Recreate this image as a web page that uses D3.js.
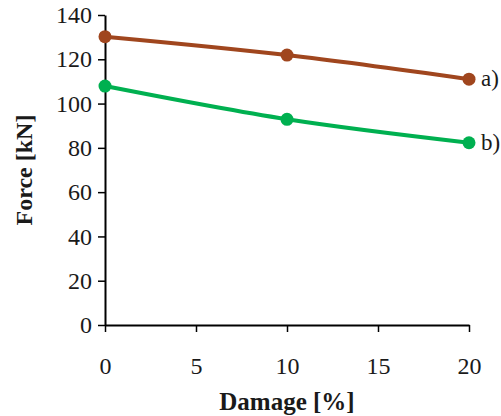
<!DOCTYPE html>
<html>
<head>
<meta charset="utf-8">
<script src="https://cdn.jsdelivr.net/npm/d3@7"></script>
<style>
  body { margin: 0; background: #fff; }
  svg text { font-family: "Liberation Serif", "Times New Roman", serif; fill: #1a1a1a; }
</style>
</head>
<body>
<svg id="vis" width="501" height="416"></svg>
<script>
const damage = [0, 10, 20];
const forceA = [130.2, 121.9, 111.0];
const forceB = [107.9, 92.9, 82.3];
const xTicks = [0, 5, 10, 15, 20];
const yTicks = [0, 20, 40, 60, 80, 100, 120, 140];

let width = 501,
    height = 416,
    margins = { top: 15, right: 32, bottom: 91, left: 105 },
    svg = d3.select("#vis");

const x = d3.scaleLinear().domain([0, 20]).range([margins.left, width - margins.right]);
const y = d3.scaleLinear().domain([0, 140]).range([height - margins.bottom, margins.top]);

const series = [
  { label: "a)", values: forceA, color: "#A0461E" },
  { label: "b)", values: forceB, color: "#00B050" }
];

// axes
const xAxis = svg.append("g")
    .attr("transform", `translate(0,${y(0)})`)
    .call(d3.axisBottom(x).tickValues(xTicks).tickSize(7).tickPadding(25).tickSizeOuter(0));
const yAxis = svg.append("g")
    .attr("transform", `translate(${x(0)},0)`)
    .call(d3.axisLeft(y).tickValues(yTicks).tickSize(7).tickPadding(6).tickSizeOuter(0));

[xAxis, yAxis].forEach(g => {
  g.attr("font-size", 24).attr("font-family", "Liberation Serif");
  g.select(".domain").attr("stroke", "#000").attr("stroke-width", 2);
  g.selectAll(".tick line").attr("stroke", "#000").attr("stroke-width", 1.5);
  g.selectAll(".tick text")
    .style("font-family", '"Liberation Serif", serif')
    .style("font-size", "24px")
    .attr("fill", "#1a1a1a");
});

// lines
const line = d3.line()
    .x((d, i) => x(damage[i]))
    .y(d => y(d))
    .curve(d3.curveCatmullRom.alpha(0.5));

series.forEach(s => {
  svg.append("path")
      .datum(s.values)
      .attr("fill", "none")
      .attr("stroke", s.color)
      .attr("stroke-width", 4)
      .attr("d", line);

  svg.append("g").selectAll("circle")
    .data(s.values)
    .join("circle")
      .attr("cx", (d, i) => x(damage[i]))
      .attr("cy", d => y(d))
      .attr("r", 6.5)
      .attr("fill", s.color);

  const last = s.values[s.values.length - 1];
  svg.append("text")
      .attr("x", x(20) + 12)
      .attr("y", y(last) + 7)
      .style("font-size", "23px")
      .text(s.label);
});

// axis titles
svg.append("text")
    .attr("x", (x(0) + x(20)) / 2)
    .attr("y", 410)
    .attr("text-anchor", "middle")
    .style("font-size", "25px")
    .style("font-weight", "bold")
    .text("Damage [%]");

svg.append("text")
    .attr("transform", `translate(32,${(y(0) + y(140)) / 2}) rotate(-90)`)
    .attr("text-anchor", "middle")
    .style("font-size", "24px")
    .style("font-weight", "bold")
    .text("Force [kN]");
</script>
</body>
</html>
